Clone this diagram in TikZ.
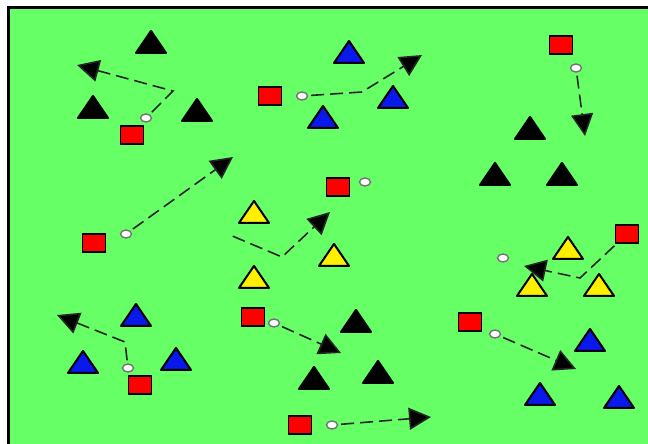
\documentclass[tikz,border=0pt]{standalone}
\usetikzlibrary{shapes.geometric,arrows.meta}

\definecolor{pitch}{RGB}{102,255,102}
\definecolor{coneblue}{RGB}{10,25,235}
\definecolor{coneyellow}{RGB}{255,240,0}

\begin{document}
\begin{tikzpicture}[x=1pt,y=-1pt,
  cone/.style={isosceles triangle,isosceles triangle apex angle=67,
    isosceles triangle stretches,shape border rotate=90,
    minimum width=30pt,minimum height=22pt,inner sep=0pt,
    draw=black,line width=2pt,line join=round,fill=#1},
  player/.style={rectangle,draw=black,line width=1.4pt,fill=red,
    minimum width=23pt,minimum height=18pt,inner sep=0pt},
  ball/.style={ellipse,draw=black!55,line width=1.4pt,fill=white,
    minimum width=11pt,minimum height=8pt,inner sep=0pt},
  run/.style={draw=black!85,line width=1.6pt,dash pattern=on 13pt off 6pt,
    shorten <=3pt,-{Triangle[length=22pt,width=22pt,fill=black]}}]

\useasboundingbox (0,0) rectangle (648,444);

% Draw the field
\fill[white] (0,0) rectangle (648,444);
\fill[pitch] (8.5,7.5) rectangle (648,444);
\draw[line width=3pt] (8.5,444) -- (8.5,7.5) -- (648,7.5);

% Draw the cones
\node[cone=black] (coneA1) at (151,45) {};
\node[cone=black] (coneA2) at (93,110) {};
\node[cone=black] (coneA3) at (197,113) {};
\node[cone=coneblue] (coneB1) at (349,55) {};
\node[cone=coneblue] (coneB2) at (393,100) {};
\node[cone=coneblue] (coneB3) at (323,120) {};
\node[cone=black] (coneC1) at (530,131) {};
\node[cone=black] (coneC2) at (495,177) {};
\node[cone=black] (coneC3) at (562,177) {};
\node[cone=coneyellow] (coneE1) at (254,215) {};
\node[cone=coneyellow] (coneE2) at (334,258) {};
\node[cone=coneyellow] (coneE3) at (254,280) {};
\node[cone=coneyellow] (coneF1) at (568,251) {};
\node[cone=coneyellow] (coneF2) at (532,288) {};
\node[cone=coneyellow] (coneF3) at (599,288) {};
\node[cone=coneblue] (coneG1) at (136,318) {};
\node[cone=coneblue] (coneG2) at (83,365) {};
\node[cone=coneblue] (coneG3) at (176,362) {};
\node[cone=black] (coneH1) at (356,324) {};
\node[cone=black] (coneH2) at (314,381) {};
\node[cone=black] (coneH3) at (378,375) {};
\node[cone=coneblue] (coneJ1) at (590,343) {};
\node[cone=coneblue] (coneJ2) at (540,397) {};
\node[cone=coneblue] (coneJ3) at (619,400) {};

% Draw the players
\node[player] (playerA) at (132,135) {};
\node[player] (playerB) at (270,96) {};
\node[player] (playerC) at (561,45) {};
\node[player] (playerD) at (94,243) {};
\node[player] (playerE) at (338,187) {};
\node[player] (playerF) at (627,234) {};
\node[player] (playerG) at (140,385) {};
\node[player] (playerH) at (253,317) {};
\node[player] (playerI) at (300,425) {};
\node[player] (playerJ) at (470,322) {};

% Draw the balls
\node[ball] (ballA) at (146,118) {};
\node[ball] (ballB) at (302,96) {};
\node[ball] (ballC) at (576,68) {};
\node[ball] (ballD) at (126,234) {};
\node[ball] (ballE) at (365,182) {};
\node[ball] (ballF) at (503,258) {};
\node[ball] (ballG) at (128,368) {};
\node[ball] (ballH) at (274,323) {};
\node[ball] (ballI) at (332,425) {};
\node[ball] (ballJ) at (495,334) {};

% Draw the runs
\coordinate (bendA) at (173,91);
\coordinate (tipA) at (77,65);
\coordinate (bendB) at (362,92);
\coordinate (tipB) at (422,55);
\coordinate (tipC) at (585,136);
\coordinate (tipD) at (233,157);
\coordinate (startE) at (230,235);
\coordinate (bendE) at (282,257);
\coordinate (tipE) at (330,212);
\coordinate (bendF) at (580,278);
\coordinate (tipF) at (524,266);
\coordinate (bendG) at (125,342);
\coordinate (tipG) at (57,315);
\coordinate (tipH) at (341,353);
\coordinate (tipI) at (431,417);
\coordinate (tipJ) at (576,369);

\draw[run] (ballA) -- (bendA) -- (tipA);
\draw[run] (ballB) -- (bendB) -- (tipB);
\draw[run] (ballC) -- (tipC);
\draw[run] (ballD) -- (tipD);
\draw[run] (startE) -- (bendE) -- (tipE);
\draw[run] (playerF) -- (bendF) -- (tipF);
\draw[run] (ballG) -- (bendG) -- (tipG);
\draw[run] (ballH) -- (tipH);
\draw[run] (ballI) -- (tipI);
\draw[run] (ballJ) -- (tipJ);

\end{tikzpicture}
\end{document}
